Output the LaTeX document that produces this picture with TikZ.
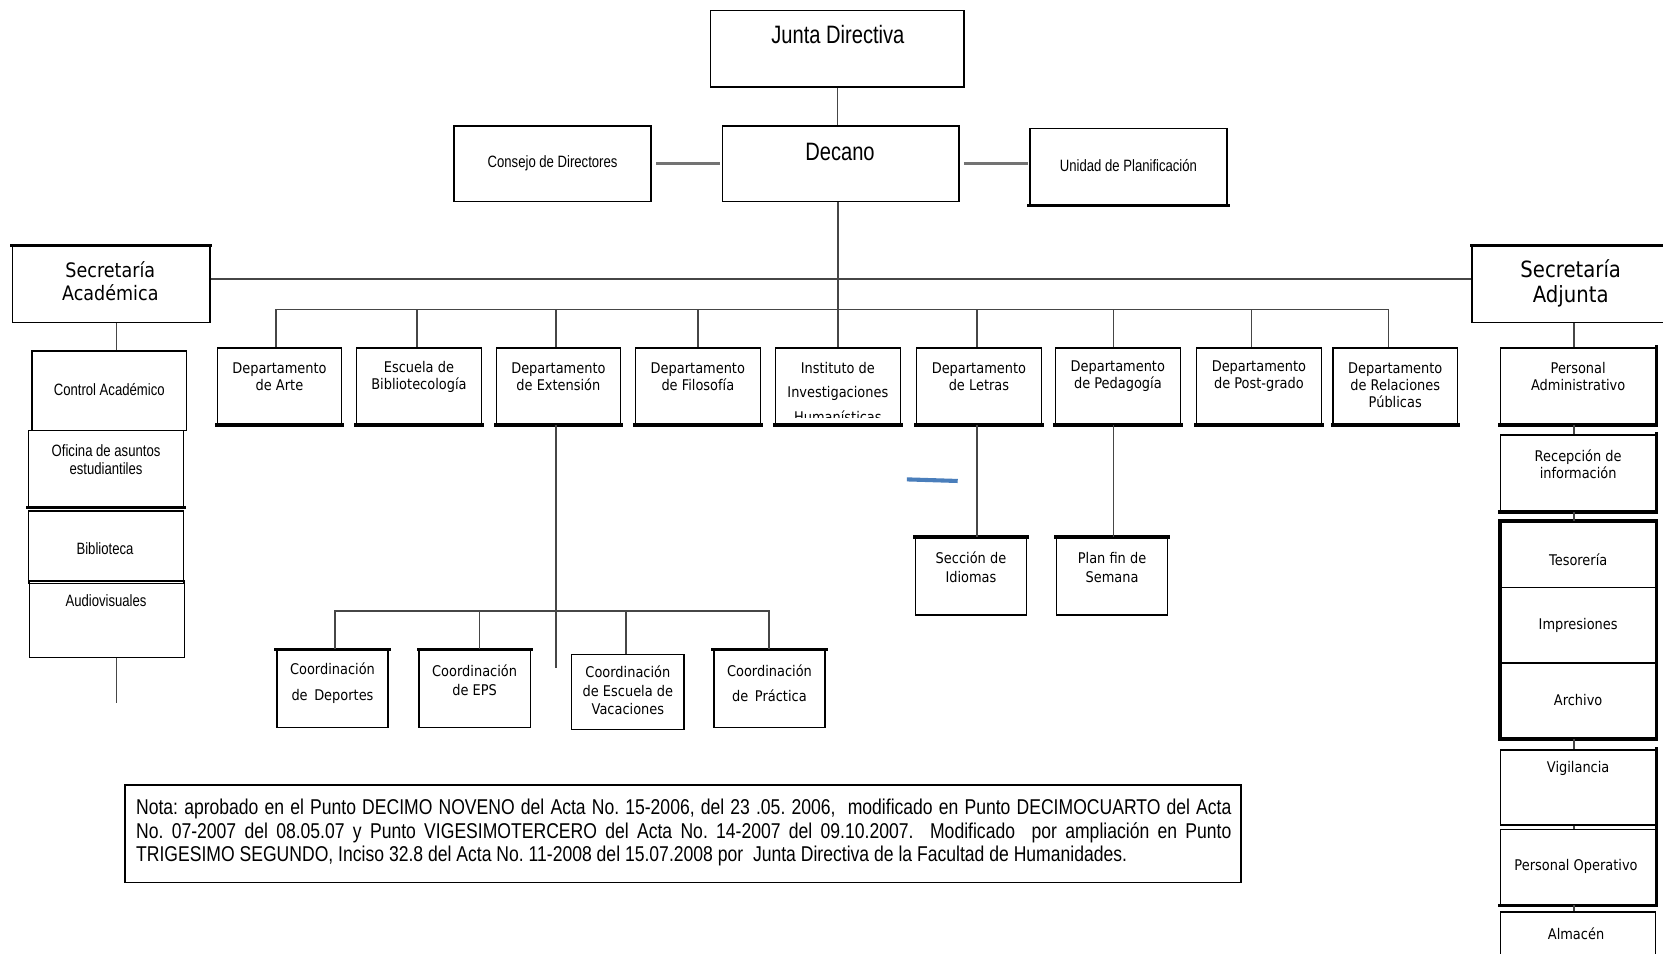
\documentclass[tikz,border=0pt]{standalone}
\usepackage{fontspec}
\setmainfont{Liberation Sans}
\newfontfamily\nar[FakeStretch=0.8]{Liberation Sans}
\newfontfamily\narb[FakeStretch=0.82]{Liberation Sans}
\newfontfamily\dv[FakeStretch=0.88]{DejaVu Sans}
\usetikzlibrary{fit}
\definecolor{strayblue}{RGB}{74,126,187}
\definecolor{connc}{RGB}{70,70,70}
\begin{document}
\begin{tikzpicture}[x=0.02cm,y=-0.02cm,
  box/.style={draw=black,line width=0.8pt,inner sep=0pt,fit={#1}},
  thk/.style={line width=1.8pt,line cap=rect},
  txt/.style={inner sep=0pt,align=center},
  big/.style={txt,font=\nar\fontsize{13.5}{16}\selectfont},
  nsm/.style={txt,font=\nar\fontsize{8.8}{9.6}\selectfont},
  dep/.style={txt,font=\dv\fontsize{7.9}{9.1}\selectfont},
  conn/.style={draw=connc,line width=0.8pt},
  sideconn/.style={draw=black!55,line width=1.6pt,shorten <=0.08cm,shorten >=0.02cm}
]
\useasboundingbox (0,0) rectangle (1568,898.6);

% ---- top level
\node[box={(670,10) (909,82)}] (junta) {};
\node[big] (juntat) at (790,33) {Junta Directiva};
\node[box={(681,119) (904,190)}] (decano) {};
\node[big] (decanot) at (792,143) {Decano};
\node[box={(428,119) (614,190)}] (consejo) {};
\node[nsm] (consejot) at (521,154) {Consejo de Directores};
\node[box={(971,121) (1157,193)}] (unidad) {};
\draw[thk] (unidad.south west) -- (unidad.south east);
\node[nsm] (unidadt) at (1064,156) {Unidad de Planificación};

% ---- secretarias
\node[box={(12,232) (198,304)}] (secac) {};
\draw[thk] (secac.north west) -- (secac.north east);
\node[txt,font=\dv\fontsize{10.7}{12.6}\selectfont] (secact) at (104,265) {Secretaría\\Académica};
\node[box={(1388,232) (1572,304)}] (secadj) {};
\draw[thk] (secadj.north west) -- (secadj.north east);
\node[txt,font=\dv\fontsize{12}{13.5}\selectfont] (secadjt) at (1481,267) {Secretaría\\Adjunta};

% ---- departments
\node[box={(205,328) (322,400)}] (arte) {};
\node[dep] (artet) at (263.5,355) {Departamento\\de Arte};
\node[box={(336,328) (454,400)}] (bib) {};
\node[dep] (bibt) at (395,355) {Escuela de\\Bibliotecología};
\node[box={(468,328) (585,400)}] (ext) {};
\node[dep] (extt) at (526.5,355) {Departamento\\de Extensión};
\node[box={(599,328) (717,400)}] (fil) {};
\node[dep] (filt) at (658,355) {Departamento\\de Filosofía};
\node[box={(731,328) (849,400)}] (inst) {};
\begin{scope}
\clip (732,329) rectangle (848,394);
\node[txt,font=\dv\fontsize{7.9}{13.2}\selectfont] (instt) at (790,370) {Instituto de\\Investigaciones\\Humanísticas};
\end{scope}
\node[box={(864,328) (982,400)}] (let) {};
\node[dep] (lett) at (923,355) {Departamento\\de Letras};
\node[box={(995,328) (1113,400)}] (ped) {};
\node[dep] (pedt) at (1054,355) {Departamento\\de Pedagogía};
\node[box={(1128,328) (1246,400)}] (post) {};
\node[dep] (postt) at (1187,355) {Departamento\\de Post-grado};
\node[box={(1257,328) (1374,400)}] (rrpp) {};
\node[dep] (rrppt) at (1315.5,363) {Departamento\\de Relaciones\\Públicas};
\foreach \n in {arte,bib,ext,fil,inst,let,ped,post,rrpp}
  \draw[thk] (\n.south west) -- (\n.south east);

% ---- left column
\node[box={(30,331) (176,406)}] (control) {};
\node[nsm] (controlt) at (103,367) {Control Académico};
\node[box={(27,406) (173,478)}] (ofi) {};
\draw[thk] (ofi.south west) -- (ofi.south east);
\node[nsm] (ofit) at (100,433) {Oficina de asuntos\\estudiantiles};
\node[box={(27,482) (173,550)}] (biblio) {};
\node[nsm] (bibliot) at (99,517) {Biblioteca};
\node[box={(28,548) (174,620)}] (audio) {};
\node[nsm] (audiot) at (100,566) {Audiovisuales};

% ---- extension subtree
\node[box={(261,613) (366,686)}] (depo) {};
\draw[thk] (depo.north west) -- (depo.north east);
\node[txt,font=\dv\fontsize{7.9}{13.6}\selectfont] (depot) at (313.5,644) {Coordinación\\de\, Deportes};
\node[box={(395,613) (500,686)}] (eps) {};
\draw[thk] (eps.north west) -- (eps.north east);
\node[txt,font=\dv\fontsize{7.9}{10.2}\selectfont] (epst) at (447.5,641) {Coordinación\\de EPS};
\node[box={(539,617) (645,688)}] (vac) {};
\node[txt,font=\dv\fontsize{7.9}{10}\selectfont] (vact) at (592,651) {Coordinación\\de Escuela de\\Vacaciones};
\node[box={(673,613) (778,686)}] (prac) {};
\draw[thk] (prac.north west) -- (prac.north east);
\node[txt,font=\dv\fontsize{7.9}{13.6}\selectfont] (pract) at (725.5,644) {Coordinación\\de\, Práctica};

% ---- letras / pedagogia subtrees
\node[box={(863,507) (968,580)}] (secc) {};
\draw[thk] (secc.north west) -- (secc.north east);
\node[txt,font=\dv\fontsize{7.9}{10.2}\selectfont] (secct) at (915.5,535) {Sección de\\Idiomas};
\node[box={(996,507) (1101,580)}] (plan) {};
\draw[thk] (plan.north west) -- (plan.north east);
\node[txt,font=\dv\fontsize{7.9}{10.2}\selectfont] (plant) at (1048.5,535) {Plan fin de\\Semana};

% ---- right column
\node[box={(1415,328) (1561,400)}] (padm) {};
\draw[thk] (padm.south west) -- (padm.south east) -- (padm.north east);
\node[dep] (padmt) at (1488,355) {Personal\\Administrativo};
\node[box={(1415,410) (1561,482)}] (recep) {};
\draw[thk] (recep.south west) -- (recep.south east) -- (recep.north east);
\node[dep] (recept) at (1488,438) {Recepción de\\información};
\node[box={(1415,492) (1561,696)}] (tia) {};
\draw[thk] (tia.south west) rectangle (tia.north east);
\draw[line width=0.8pt] (1415,554) -- (1561,554) (1415,625) -- (1561,625);
\node[dep] (teso) at (1488,528) {Tesorería};
\node[dep] (impr) at (1488,590) {Impresiones};
\node[dep] (arch) at (1488,660) {Archivo};
\node[box={(1415,707) (1561,778)}] (vig) {};
\draw[thk] (vig.south east) -- (vig.north east);
\node[dep] (vigt) at (1488,725) {Vigilancia};
\node[box={(1415,782) (1561,853)}] (pope) {};
\draw[thk] (pope.south west) -- (pope.south east) -- (pope.north east);
\node[dep] (popet) at (1486,817) {Personal Operativo};
\node[box={(1415,860) (1561,930)}] (alm) {};
\node[dep] (almt) at (1486,880) {Almacén};

% ---- note
\node[box={(118,740) (1170,832)}] (nota) {};
\node[inner sep=0pt,anchor=north west,font=\narb\fontsize{11.5}{12.6}\selectfont] (notat) at (128,753) {\parbox{20.66cm}{\frenchspacing Nota: aprobado en el Punto DECIMO NOVENO del Acta No. 15-2006, del 23 .05. 2006,\ \ modificado en Punto DECIMOCUARTO del Acta\linebreak No. 07-2007 del 08.05.07 y Punto VIGESIMOTERCERO del Acta No. 14-2007 del 09.10.2007.\ \ Modificado\ \ por ampliación en Punto\linebreak TRIGESIMO SEGUNDO, Inciso 32.8 del Acta No. 11-2008 del 15.07.2008 por\ \ Junta Directiva de la Facultad de Humanidades.}};

% ---- connectors
\coordinate (dbus) at (0,292);
\coordinate (sbus) at (0,263);
\coordinate (ebus) at (0,576);
\coordinate (extend) at (524,630);
\coordinate (audioend) at (110,663);
\coordinate (rcol) at (1484,0);

\draw[conn] (junta.south) -- (junta.south |- decano.north);
\draw[sideconn] (consejo.east) -- (decano.west);
\draw[sideconn] (decano.east) -- (decano.east -| unidad.west);
\draw[conn] (inst.north |- decano.south) -- (inst.north);
\draw[conn] (secac.east |- sbus) -- (secadj.west |- sbus);
\draw[conn] (arte.north -| 260,0) -- (260,292) -- (1309,292) -- (rrpp.north -| 1309,0);
\foreach \n/\x in {bib/393,ext/524,fil/658,let/921,ped/1050,post/1180}
  \draw[conn] (\n.north -| \x,0) -- (\x,292);

\draw[conn] (secac.south -| audioend) -- (control.north -| audioend);
\draw[conn] (audio.south -| audioend) -- (audioend);

\draw[conn] (ext.south -| extend) -- (extend);
\draw[conn] (depo.north -| 316,0) -- (316,576) -- (725,576) -- (prac.north -| 725,0);
\draw[conn] (eps.north -| 452,0) -- (452,576);
\draw[conn] (vac.north -| 590,0) -- (590,576);

\draw[conn] (let.south -| 921,0) -- (secc.north -| 921,0);
\draw[conn] (ped.south -| 1050,0) -- (plan.north -| 1050,0);

\draw[conn] (secadj.south -| rcol) -- (padm.north -| rcol);
\draw[conn] (padm.south -| rcol) -- (recep.north -| rcol);
\draw[conn] (recep.south -| rcol) -- (tia.north -| rcol);
\draw[conn] (tia.south -| rcol) -- (vig.north -| rcol);
\draw[conn] (vig.south -| rcol) -- (pope.north -| rcol);
\draw[conn] (pope.south -| rcol) -- (alm.north -| rcol);

% stray blue mark
\draw[strayblue,line width=2.2pt] (855,452) -- (903,453.5);
\end{tikzpicture}
\end{document}
